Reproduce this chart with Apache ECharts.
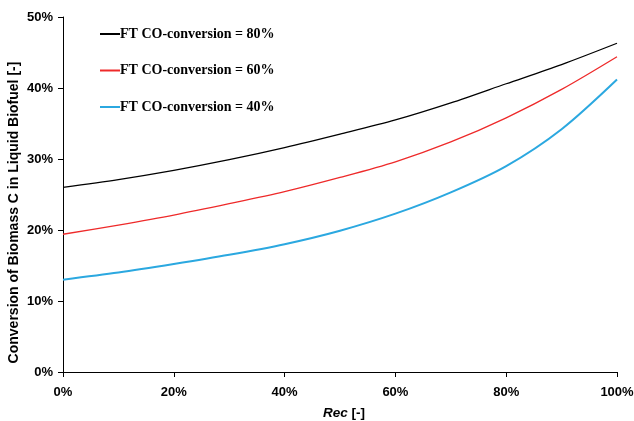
<!DOCTYPE html>
<html>
<head>
<meta charset="utf-8">
<script src="https://cdn.jsdelivr.net/npm/echarts@6/dist/echarts.min.js"></script>
<style>
  html, body { margin: 0; padding: 0; background: #fff; }
  #chart { width: 634px; height: 421px; }
</style>
</head>
<body>
<div id="chart"></div>
<script>
// Recycle ratio (fraction) along the x axis
const recValues = [0, 0.1, 0.2, 0.3, 0.4, 0.5, 0.6, 0.7, 0.8, 0.9, 1.0];

// Conversion of biomass C into liquid biofuel (fraction) per FT CO-conversion level
const conv80 = [0.260, 0.271, 0.284, 0.299, 0.316, 0.335, 0.355, 0.379, 0.406, 0.433, 0.463];
const conv60 = [0.194, 0.207, 0.221, 0.237, 0.254, 0.274, 0.296, 0.324, 0.358, 0.398, 0.444];
const conv40 = [0.130, 0.140, 0.152, 0.165, 0.180, 0.199, 0.223, 0.253, 0.290, 0.342, 0.412];

const seriesNames = ['FT CO-conversion = 80%', 'FT CO-conversion = 60%', 'FT CO-conversion = 40%'];
const xTicks = [0, 0.2, 0.4, 0.6, 0.8, 1.0];
const yTicks = [0, 0.1, 0.2, 0.3, 0.4, 0.5];

const pct = v => Math.round(v * 100) + '%';
const pairs = ys => recValues.map((x, i) => [x, ys[i]]);

const chart = echarts.init(document.getElementById('chart'), null, { renderer: 'canvas' });

const axisFont = { fontFamily: 'Liberation Sans, Arial, sans-serif', fontWeight: 'bold', fontSize: 13, color: '#000' };

chart.setOption({
  animation: false,
  backgroundColor: '#fff',
  grid: { left: 63, right: 17, top: 17, bottom: 49, outerBoundsMode: 'none', containLabel: false },
  legend: {
    orient: 'vertical',
    left: 95,
    top: 22,
    itemWidth: 20,
    itemHeight: 2,
    itemGap: 22.5,
    icon: 'rect',
    data: seriesNames,
    textStyle: { fontFamily: 'Liberation Serif, Times New Roman, serif', fontWeight: 'bold', fontSize: 14, color: '#000', padding: [0, 0, 0, -5] }
  },
  xAxis: {
    type: 'value',
    min: 0,
    max: 1,
    interval: 0.2,
    name: '{i|Rec} [-]',
    nameLocation: 'middle',
    nameGap: 34,
    nameMoveOverlap: false,
    nameTextStyle: {
      ...axisFont,
      fontSize: 13.5,
      padding: [0, 0, 0, 8],
      rich: { i: { ...axisFont, fontSize: 13.5, fontStyle: 'italic' } }
    },
    axisLine: { lineStyle: { color: '#000', width: 1 } },
    axisTick: { show: true, length: 5, lineStyle: { color: '#000' }, customValues: xTicks },
    axisLabel: { ...axisFont, margin: 14, formatter: pct, customValues: xTicks },
    splitLine: { show: false }
  },
  yAxis: {
    type: 'value',
    min: 0,
    max: 0.5,
    interval: 0.1,
    name: 'Conversion of Biomass C in Liquid Biofuel [-]',
    nameLocation: 'middle',
    nameGap: 42,
    nameRotate: 90,
    nameMoveOverlap: false,
    nameTextStyle: { ...axisFont, fontSize: 14, padding: [0, 36, 0, 0] },
    axisLine: { show: true, lineStyle: { color: '#000', width: 1 } },
    axisTick: { show: true, length: 5, lineStyle: { color: '#000' }, customValues: yTicks },
    axisLabel: { ...axisFont, margin: 10, formatter: pct, customValues: yTicks },
    splitLine: { show: false }
  },
  series: [
    { name: seriesNames[0], type: 'line', smooth: 0.3, symbol: 'none', data: pairs(conv80), color: '#000000', lineStyle: { width: 1.3 } },
    { name: seriesNames[1], type: 'line', smooth: 0.3, symbol: 'none', data: pairs(conv60), color: '#ee2a2a', lineStyle: { width: 1.3 } },
    { name: seriesNames[2], type: 'line', smooth: 0.3, symbol: 'none', data: pairs(conv40), color: '#2ba8e0', lineStyle: { width: 2 } }
  ]
});
</script>
</body>
</html>
